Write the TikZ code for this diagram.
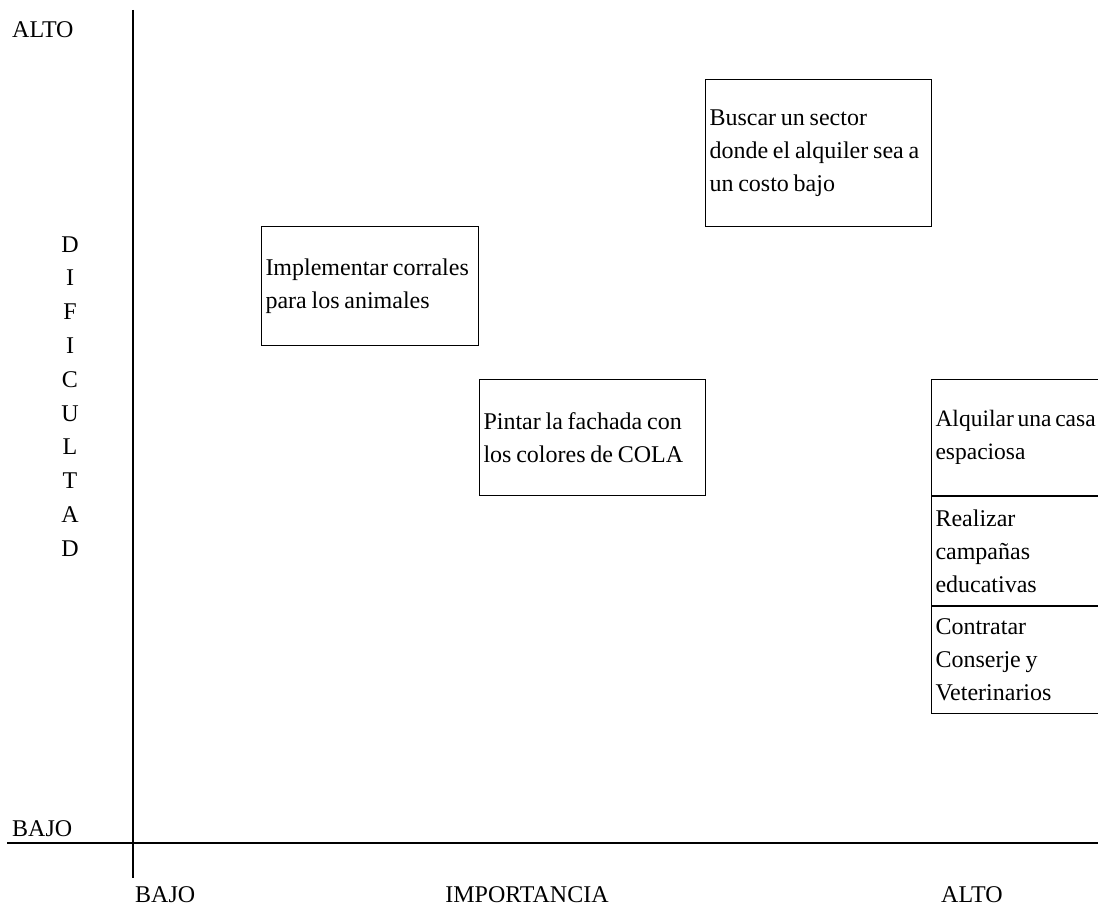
\documentclass[tikz,border=0pt]{standalone}
\usepackage{fontspec}
\setmainfont{Liberation Serif}
\usetikzlibrary{positioning}

\tikzset{
    idea/.style={draw, line width=1pt, anchor=north west, inner xsep=4pt, inner ysep=0pt,
        align=left, font=\fontsize{24}{33}\selectfont,
        execute at begin node={\spaceskip=0.2em plus 0.05em\relax}},
    lbl/.style={font=\fontsize{24}{28}\selectfont, inner sep=0pt}
}

\begin{document}
\begin{tikzpicture}[x=1pt, y=-1pt]
            \clip (0,0) rectangle (1098,907);
            \fill[white] (0,0) rectangle (1098,907);

            % axes
            \draw[line width=1.2pt] (133,10) -- (133,878);
            \draw[line width=1.2pt] (7,843) -- (1098,843);

            % axis labels
            \node[lbl, anchor=base west] (altoy) at (12,38) {ALTO};
            \node[lbl, anchor=base west] (bajoy) at (12,836) {BAJO};
            \node[lbl, anchor=base west] (bajox) at (135,902) {BAJO};
            \node[lbl, anchor=base] (imp) at (527,902) {IMPORTANCIA};
            \node[lbl, anchor=base west] (altox) at (941,902) {ALTO};

            \foreach \l [count=\i] in {D,I,F,I,C,U,L,T,A,D}{
                \node[lbl, anchor=base] (dif\i) at (70, 252+33.8*\i-33.8) {\l};
            }

            % boxes
            \node[idea, minimum width=217pt, minimum height=119pt, text width=209pt] (corrales) at (261,226)
                {Implementar corrales\\para los animales};
            \node[idea, minimum width=226pt, minimum height=147pt, text width=218pt] (sector) at (705,79)
                {Buscar un sector\\\mbox{donde el alquiler sea a}\\un costo bajo};
            \node[idea, minimum width=226pt, minimum height=116pt, text width=218pt] (fachada) at (479,379)
                {Pintar la fachada con\\los colores de COLA};

            \node[idea, minimum width=185pt, minimum height=116pt, text width=177pt,
                font=\fontsize{23.5}{33}\selectfont, execute at begin node={\spaceskip=0.16em\relax}] (casa) at (931,379)
                {Alquilar una casa\\espaciosa};
            \node[idea, minimum width=185pt, minimum height=109pt, text width=177pt] (campanas) at (casa.south west)
                {Realizar\\campañas\\educativas};
            \node[idea, minimum width=185pt, minimum height=107pt, text width=177pt] (conserje) at (campanas.south west)
                {Contratar\\Conserje y\\Veterinarios};
        \end{tikzpicture}
\end{document}
